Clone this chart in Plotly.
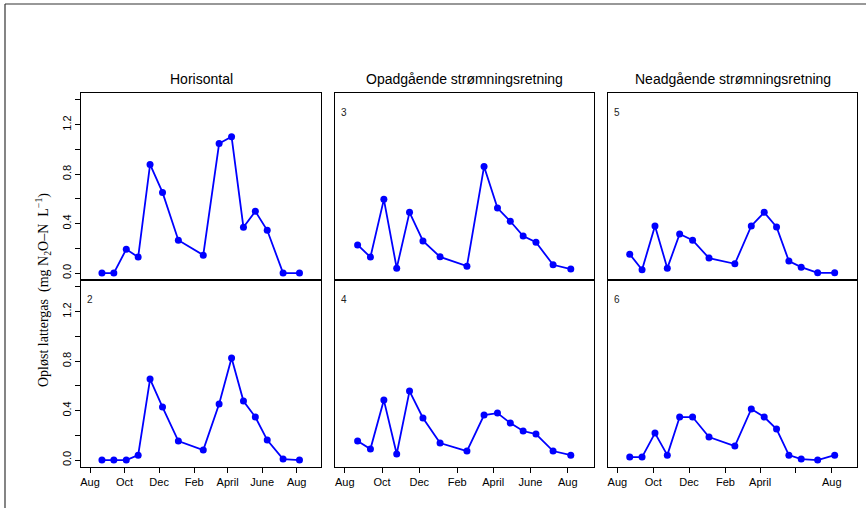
import plotly.graph_objects as go

# ---------------- data ----------------
dates = ["2005-08-22", "2005-09-12", "2005-10-04", "2005-10-25", "2005-11-15",
         "2005-12-07", "2006-01-04", "2006-02-17", "2006-03-17", "2006-04-08",
         "2006-04-29", "2006-05-20", "2006-06-10", "2006-07-08", "2006-08-06"]

panel1 = [0.0, 0.0, 0.193, 0.129, 0.878, 0.652, 0.266, 0.145, 1.047, 1.103, 0.370, 0.499, 0.346, 0.0, 0.0]
panel2 = [0.0, 0.0, 0.0, 0.040, 0.655, 0.429, 0.154, 0.081, 0.453, 0.825, 0.477, 0.348, 0.162, 0.008, 0.0]
panel3 = [0.228, 0.129, 0.596, 0.040, 0.491, 0.260, 0.131, 0.056, 0.861, 0.526, 0.419, 0.300, 0.249, 0.067, 0.032]
panel4 = [0.154, 0.089, 0.485, 0.049, 0.558, 0.340, 0.138, 0.073, 0.364, 0.380, 0.299, 0.235, 0.210, 0.073, 0.040]
panel5 = [0.153, 0.027, 0.381, 0.040, 0.316, 0.266, 0.121, 0.075, 0.381, 0.491, 0.373, 0.097, 0.048, 0.002, 0.002]
panel6 = [0.024, 0.024, 0.218, 0.040, 0.348, 0.348, 0.186, 0.113, 0.413, 0.348, 0.251, 0.040, 0.008, 0.0, 0.040]

column_titles = ["Horisontal", "Opadgående strømningsretning", "Neadgående strømningsretning"]
panel_labels = ["", "2", "3", "4", "5", "6"]

x_tick_vals = ["2005-08-01", "2005-10-01", "2005-12-01", "2006-02-01",
               "2006-04-01", "2006-06-01", "2006-08-01"]
x_tick_text = ["Aug", "Oct", "Dec", "Feb", "April", "June", "Aug"]
x_tick_text_6 = ["Aug", "Oct", "Dec", "Feb", "April", "", "Aug"]
x_range = ["2005-07-16", "2006-09-13"]

y_tick_vals = [0.0, 0.2, 0.4, 0.6, 0.8, 1.0, 1.2, 1.4]
y_tick_text = ["0.0", "", "0.4", "", "0.8", "", "1.2", ""]
y_range = [-0.056, 1.456]

y_title = "Opløst lattergas  (mg N<sub>2</sub>O–N  L<sup>−1</sup>)"

# ---------------- layout geometry ----------------
W, H = 866, 508
cols = [(81, 321), (335, 594), (608, 857)]
rows = [(93, 280), (280, 467)]

def fx(p):
    return p / W

def fy(p):
    return 1 - p / H

series = [panel1, panel2, panel3, panel4, panel5, panel6]

fig = go.Figure()
layout = dict(
    width=W, height=H,
    margin=dict(l=0, r=0, t=0, b=0, autoexpand=False),
    paper_bgcolor="white", plot_bgcolor="white",
    showlegend=False,
    font=dict(family="Liberation Sans, Arial, sans-serif", color="black", size=11),
)

annotations = []
shapes = []

for i in range(6):
    c, r = i // 2, i % 2
    n = i + 1
    xa = "xaxis" if n == 1 else f"xaxis{n}"
    ya = "yaxis" if n == 1 else f"yaxis{n}"
    xref = "x" if n == 1 else f"x{n}"
    yref = "y" if n == 1 else f"y{n}"

    fig.add_trace(go.Scatter(
        x=dates, y=series[i], xaxis=xref, yaxis=yref,
        mode="lines+markers",
        line=dict(color="#0000FF", width=1.8),
        marker=dict(color="#0000FF", size=7),
        hoverinfo="skip",
    ))

    bottom = (r == 1)
    left = (c == 0)
    layout[xa] = dict(
        domain=[fx(cols[c][0]), fx(cols[c][1])],
        anchor=yref, type="date", range=x_range, automargin=False,
        showline=True, mirror=True, linecolor="black", linewidth=1,
        showgrid=False, zeroline=False,
        tickmode="array", tickvals=x_tick_vals,
        ticktext=(x_tick_text_6 if n == 6 else x_tick_text),
        ticks="outside" if bottom else "", ticklen=5, tickcolor="black",
        showticklabels=bottom,
        tickfont=dict(size=11, family="Liberation Sans, Arial, sans-serif"),
    )
    layout[ya] = dict(
        domain=[fy(rows[r][1]), fy(rows[r][0])],
        anchor=xref, range=y_range, automargin=False,
        showline=True, mirror=True, linecolor="black", linewidth=1,
        showgrid=False, zeroline=False,
        tickmode="array", tickvals=y_tick_vals, ticktext=y_tick_text,
        ticks="outside" if left else "", ticklen=5, tickcolor="black",
        showticklabels=left, tickangle=-90,
        tickfont=dict(size=11, family="Liberation Sans, Arial, sans-serif"),
    )

    if panel_labels[i]:
        annotations.append(dict(
            x=fx(cols[c][0] + 9), y=fy(rows[r][0] + 19),
            xref="paper", yref="paper", text=panel_labels[i],
            showarrow=False, xanchor="center", yanchor="middle",
            font=dict(size=10, color="#222"),
        ))

for c in range(3):
    annotations.append(dict(
        x=fx((cols[c][0] + cols[c][1]) / 2), y=fy(79),
        xref="paper", yref="paper", text=column_titles[c],
        showarrow=False, xanchor="center", yanchor="middle",
        font=dict(size=14, family="Liberation Sans, Arial, sans-serif"),
    ))

annotations.append(dict(
    x=fx(43), y=fy(290), xref="paper", yref="paper",
    text=y_title, showarrow=False, textangle=-90,
    xanchor="center", yanchor="middle",
    font=dict(size=14, family="Liberation Serif, Times New Roman, serif"),
))

# outer frame (left and top edges)
shapes.append(dict(type="line", xref="paper", yref="paper",
                   x0=fx(5), x1=fx(5), y0=0, y1=fy(4),
                   line=dict(color="#333", width=1.2)))
shapes.append(dict(type="line", xref="paper", yref="paper",
                   x0=fx(5), x1=1, y0=fy(4), y1=fy(4),
                   line=dict(color="#333", width=1.2)))

layout["annotations"] = annotations
layout["shapes"] = shapes
fig.update_layout(**layout)

fig.write_html("out.html", config={"displayModeBar": False},
               post_script="document.body.style.margin='0';document.body.style.overflow='hidden';")
